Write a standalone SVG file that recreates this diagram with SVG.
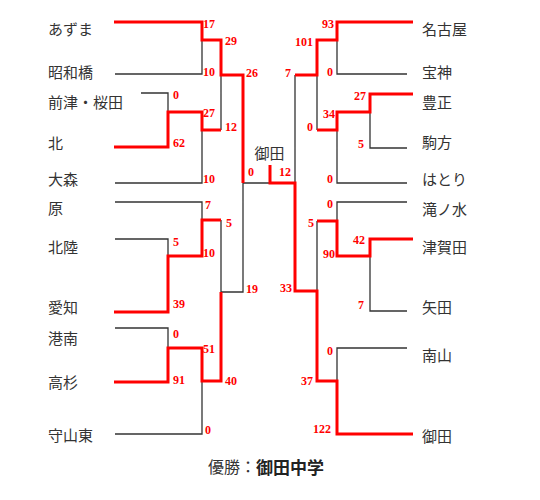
<svg xmlns="http://www.w3.org/2000/svg" width="540" height="500" viewBox="0 0 540 500">
<style>
.t{font-family:"Noto Sans CJK JP","Liberation Sans",sans-serif;font-size:15px;fill:#333;dominant-baseline:central}
.s{font-family:"Liberation Serif",serif;font-weight:bold;font-size:12px;fill:#f00}
.e{text-anchor:end}
.b{fill:none;stroke:#333;stroke-width:1.3}
.r{fill:none;stroke:#f00;stroke-width:3}
</style>
<rect width="540" height="500" fill="#fff"/>
<g id="connectors">
<path class="b" d="M115,74H202V40M141,93H168V112M221,130V75M115,183H202V130M243,183H270M115,202H202V220M115,239H168V256M221,220V292H243V183M115,328H168V348M115,434H202V381"/>
<path class="b" d="M295,75V183M407,74H337V40M407,148H370V112M407,183H337V130M317,130V75M407,202H337V221M407,311H370V256M317,221V291M407,348H337V381"/>
<path class="r" d="M114,22H202V40H221V75H243V183"/>
<path class="r" d="M114,147H168V112H202V130H221"/>
<path class="r" d="M114,312H168V256H202V220H221"/>
<path class="r" d="M114,382H168V348H202V381H221V292"/>
<path class="r" d="M413,22H337V40H317V75H295"/>
<path class="r" d="M413,94H370V112H337V130H317"/>
<path class="r" d="M413,239H370V256H337V221H317"/>
<path class="r" d="M413,434H337V381H317V291H295V183H270V165"/>
</g>
<g id="scores">
<text class="s" x="203" y="28">17</text>
<text class="s" x="225" y="45">29</text>
<text class="s" x="203" y="76">10</text>
<text class="s" x="246" y="77">26</text>
<text class="s" x="173" y="99">0</text>
<text class="s" x="203" y="117">27</text>
<text class="s" x="225" y="131">12</text>
<text class="s" x="173" y="147">62</text>
<text class="s" x="203" y="183">10</text>
<text class="s" x="248" y="176">0</text>
<text class="s" x="205" y="209">7</text>
<text class="s" x="226" y="227">5</text>
<text class="s" x="173" y="246">5</text>
<text class="s" x="203" y="257">10</text>
<text class="s" x="246" y="293">19</text>
<text class="s" x="173" y="308">39</text>
<text class="s" x="173" y="338">0</text>
<text class="s" x="203" y="353">51</text>
<text class="s" x="173" y="384">91</text>
<text class="s" x="225" y="385">40</text>
<text class="s" x="205" y="434">0</text>
<text class="s e" x="334" y="28">93</text>
<text class="s e" x="313" y="46">101</text>
<text class="s e" x="333" y="76">0</text>
<text class="s e" x="291" y="77">7</text>
<text class="s e" x="366" y="100">27</text>
<text class="s e" x="335" y="118">34</text>
<text class="s e" x="313" y="131">0</text>
<text class="s e" x="364" y="148">5</text>
<text class="s e" x="333" y="183">0</text>
<text class="s e" x="291" y="176">12</text>
<text class="s e" x="333" y="208">0</text>
<text class="s e" x="314" y="227">5</text>
<text class="s e" x="365" y="244">42</text>
<text class="s e" x="335" y="258">90</text>
<text class="s e" x="292" y="292">33</text>
<text class="s e" x="364" y="309">7</text>
<text class="s e" x="333" y="355">0</text>
<text class="s e" x="313" y="385">37</text>
<text class="s e" x="331" y="433">122</text>
</g>
<g id="n-azuma"><text class="t" x="48" y="28">あずま</text></g>
<g id="n-showabashi"><text class="t" x="48" y="71">昭和橋</text></g>
<g id="n-maezu"><text class="t" x="48" y="101">前津・桜田</text></g>
<g id="n-kita"><text class="t" x="48" y="142">北</text></g>
<g id="n-omori"><text class="t" x="48" y="178">大森</text></g>
<g id="n-hara"><text class="t" x="48" y="207">原</text></g>
<g id="n-hokuryo"><text class="t" x="48" y="246">北陸</text></g>
<g id="n-aichi"><text class="t" x="48" y="306">愛知</text></g>
<g id="n-konan"><text class="t" x="48" y="337">港南</text></g>
<g id="n-takasugi"><text class="t" x="48" y="381">高杉</text></g>
<g id="n-moriyamahigashi"><text class="t" x="48" y="434">守山東</text></g>
<g id="n-nagoya"><text class="t" x="422" y="28">名古屋</text></g>
<g id="n-hoshin"><text class="t" x="422" y="71">宝神</text></g>
<g id="n-hosei"><text class="t" x="422" y="101">豊正</text></g>
<g id="n-komakata"><text class="t" x="422" y="141">駒方</text></g>
<g id="n-hatori"><text class="t" x="422" y="178">はとり</text></g>
<g id="n-takinomizu"><text class="t" x="422" y="208">滝ノ水</text></g>
<g id="n-tsugata"><text class="t" x="422" y="246">津賀田</text></g>
<g id="n-yata"><text class="t" x="422" y="306">矢田</text></g>
<g id="n-nanzan"><text class="t" x="422" y="354">南山</text></g>
<g id="n-onda"><text class="t" x="422" y="435">御田</text></g>
<g id="n-champion-top"><text class="t" x="269.5" y="152" text-anchor="middle">御田</text></g>
<g id="title"><text class="t" x="208" y="466" style="font-size:16px">優勝：<tspan style="font-weight:bold;font-size:17px;fill:#222">御田中学</tspan></text></g>
</svg>
